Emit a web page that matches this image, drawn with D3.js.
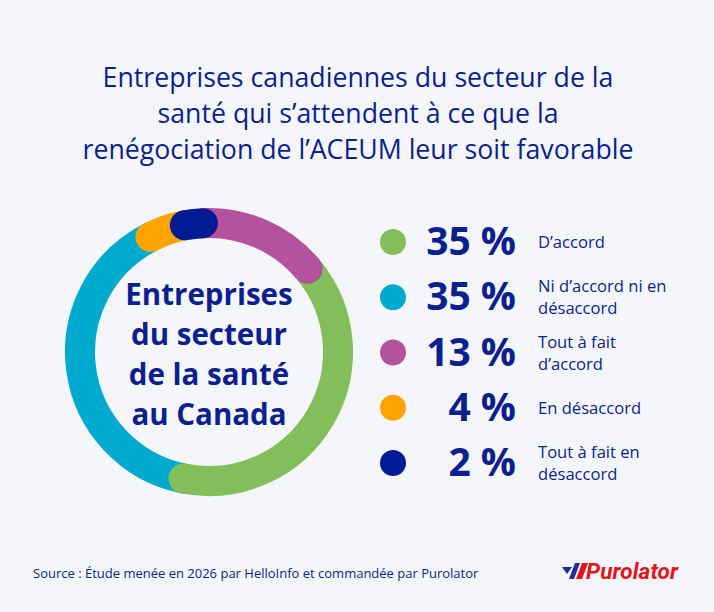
<!DOCTYPE html>
<html>
<head>
<meta charset="utf-8">
<script src="https://cdn.jsdelivr.net/npm/d3@7"></script>
<style>
  html, body { margin: 0; padding: 0; background: #f5f6f9; }
  svg { display: block; font-family: "Open Sans", "Noto Sans", sans-serif; }
</style>
</head>
<body>
<div id="chart"></div>
<script>
(function() {
    var width = 714,
        height = 612;

    // data
    var categories = ["D’accord", "Ni d’accord ni en désaccord", "Tout à fait d’accord", "En désaccord", "Tout à fait en désaccord"];
    var labelLines = [["D’accord"], ["Ni d’accord ni en", "désaccord"], ["Tout à fait", "d’accord"], ["En désaccord"], ["Tout à fait en", "désaccord"]];
    var values = [35, 35, 13, 4, 2];
    var colors = ["#82bf5b", "#00a9ce", "#b5529d", "#ffa300", "#001a94"];
    var ringOrder = [4, 2, 0, 1, 3];   // clockwise from the top
    var drawOrder = [1, 0, 2, 3, 4];   // which segment sits on top
    var titleLines = ["Entreprises canadiennes du secteur de la", "santé qui s’attendent à ce que la", "renégociation de l’ACEUM leur soit favorable"];
    var centerLines = ["Entreprises", "du secteur", "de la santé", "au Canada"];
    var source = "Source : Étude menée en 2026 par HelloInfo et commandée par Purolator";

    var navy = "#0b1f8f";

    var svg = d3.select("#chart")
        .append("svg")
        .attr("width", width)
        .attr("height", height)

    svg.append("rect")
        .attr("width", width)
        .attr("height", height)
        .attr("fill", "#f5f6f9")

    // title
    svg.append("text")
        .attr("text-anchor", "middle")
        .attr("fill", navy)
        .attr("font-size", 26.7)
        .selectAll("tspan")
        .data(titleLines)
        .enter().append("tspan")
        .attr("x", 358)
        .attr("y", function(d, i) { return 87 + i * 36 })
        .text(function(d) { return d })

    // donut
    var cx = 209, cy = 352, r = 129, thick = 30;
    var start = -10.8 * Math.PI / 180;

    var pie = d3.pie()
        .sort(null)
        .value(function(i) { return values[i] })
        .startAngle(start)
        .endAngle(start + 2 * Math.PI)

    var arcs = pie(ringOrder);
    var byIndex = {};
    arcs.forEach(function(a) { byIndex[a.data] = a });

    var ring = svg.append("g");

    ring.selectAll(".seg")
        .data(drawOrder.map(function(i) { return byIndex[i] }))
        .enter().append("path")
        .attr("class", "seg")
        .attr("d", function(a) {
            var p = d3.path();
            p.arc(cx, cy, r, a.startAngle - Math.PI / 2, a.endAngle - Math.PI / 2);
            return p.toString();
        })
        .attr("fill", "none")
        .attr("stroke", function(a) { return colors[a.data] })
        .attr("stroke-width", thick)
        .attr("stroke-linecap", "round")

    svg.append("text")
        .attr("text-anchor", "middle")
        .attr("fill", navy)
        .attr("font-size", 29.5)
        .attr("font-weight", 700)
        .selectAll("tspan")
        .data(centerLines)
        .enter().append("tspan")
        .attr("x", cx)
        .attr("y", function(d, i) { return 305 + i * 40 })
        .text(function(d) { return d })

    // legend
    var y = d3.scalePoint()
        .domain(d3.range(categories.length))
        .range([242, 463])

    var rows = svg.selectAll(".row")
        .data(d3.range(categories.length))
        .enter().append("g")
        .attr("class", "row")
        .attr("transform", function(i) { return "translate(0," + y(i) + ")" })

    rows.append("circle")
        .attr("cx", 393)
        .attr("r", 13)
        .attr("fill", function(i) { return colors[i] })

    rows.append("text")
        .attr("x", 516)
        .attr("y", 13)
        .attr("text-anchor", "end")
        .attr("fill", navy)
        .attr("font-size", 39)
        .attr("font-weight", 700)
        .text(function(i) { return values[i] + " %" })

    rows.append("text")
        .attr("fill", navy)
        .attr("font-size", 16.6)
        .each(function(i) {
            var lines = labelLines[i];
            var y0 = lines.length === 1 ? 6 : -5;
            d3.select(this).selectAll("tspan")
                .data(lines)
                .enter().append("tspan")
                .attr("x", 538)
                .attr("y", function(d, k) { return y0 + k * 22 })
                .text(function(d) { return d })
        })

    // source
    svg.append("text")
        .attr("x", 33)
        .attr("y", 578)
        .attr("fill", navy)
        .attr("font-size", 13)
        .text(source)

    // logo
    var logo = svg.append("g");
    logo.append("path")
        .attr("d", "M562,567 L572,567 L567,574 Z")
        .attr("fill", "#1a2fa0")
    logo.append("path")
        .attr("d", "M575,563 L580,563 L574,579 L569,579 Z")
        .attr("fill", "#1a2fa0")
    logo.append("path")
        .attr("d", "M582,563 L588,563 L582,579 L576,579 Z")
        .attr("fill", "#e3141b")
    logo.append("text")
        .attr("x", 586)
        .attr("y", 579)
        .attr("fill", "#e3141b")
        .attr("font-size", 22.5)
        .attr("font-weight", 700)
        .attr("font-style", "italic")
        .attr("font-family", "Roboto, 'Open Sans', sans-serif")
        .attr("textLength", 92)
        .text("Purolator")

})();
</script>
</body>
</html>
